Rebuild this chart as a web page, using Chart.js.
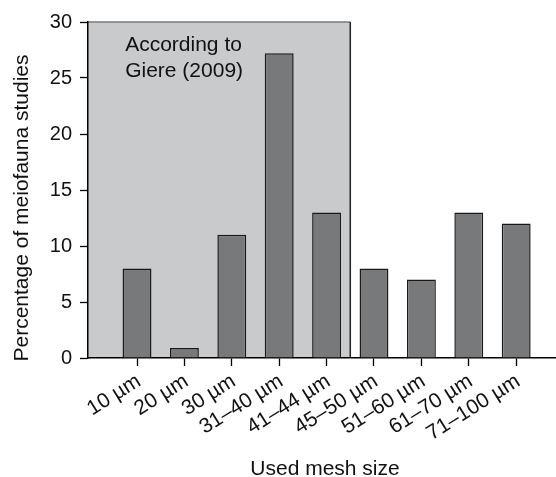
<!DOCTYPE html>
<html><head><meta charset="utf-8">
<script src="https://cdn.jsdelivr.net/npm/chart.js@4/dist/chart.umd.min.js"></script>
<style>html,body{margin:0;padding:0;background:#fff}#wrap{width:556px;height:477px}</style>
</head><body><div id="wrap"><canvas id="c" width="556" height="477"></canvas></div>
<script>
// ---- data ----
const categories = ['10 µm', '20 µm', '30 µm', '31–40 µm', '41–44 µm', '45–50 µm', '51–60 µm', '61–70 µm', '71–100 µm'];
const percentages = [8, 0.9, 11, 27.2, 13, 8, 7, 13, 12];
const yTickValues = [0, 5, 10, 15, 20, 25, 30];
const xTitle = 'Used mesh size';
const yTitle = 'Percentage of meiofauna studies';
const noteLines = ['According to', 'Giere (2009)'];
const shadedUntil = 5.5;   // shaded span covers the first five mesh classes

const FONT = '"Liberation Sans", Arial, Helvetica, sans-serif';

const decor = {
  id: 'decor',
  beforeDraw(chart) {
    const {ctx, chartArea, scales: {x, y}} = chart;
    const left = chartArea.left;
    const right = x.getPixelForValue(shadedUntil);
    const top = y.getPixelForValue(30);
    const bottom = y.getPixelForValue(0);
    ctx.save();
    ctx.fillStyle = '#c9cacc';
    ctx.fillRect(left, top, right - left, bottom - top);
    ctx.strokeStyle = '#7a7a7a';
    ctx.lineWidth = 1.3;
    ctx.beginPath();
    ctx.moveTo(left, top); ctx.lineTo(right, top);
    ctx.stroke();
    ctx.strokeStyle = '#222';
    ctx.lineWidth = 1.5;
    ctx.beginPath();
    ctx.moveTo(right, top); ctx.lineTo(right, bottom);
    ctx.stroke();
    ctx.fillStyle = '#111';
    ctx.font = '21px ' + FONT;
    ctx.textAlign = 'left';
    ctx.textBaseline = 'alphabetic';
    const tx = x.getPixelForValue(0.75);
    ctx.fillText(noteLines[0], tx, y.getPixelForValue(27.45));
    ctx.fillText(noteLines[1], tx, y.getPixelForValue(25.05));
    ctx.restore();
  },
  afterDraw(chart) {
    const {ctx, chartArea} = chart;
    ctx.save();
    ctx.fillStyle = '#111';
    ctx.font = '21px ' + FONT;
    ctx.textAlign = 'center';
    ctx.textBaseline = 'alphabetic';
    ctx.fillText(xTitle, (chartArea.left + chartArea.right) / 2 + 3, 475);
    ctx.translate(28, 208);
    ctx.rotate(-Math.PI / 2);
    ctx.fillText(yTitle, 0, 0);
    ctx.restore();
  }
};

new Chart(document.getElementById('c'), {
  type: 'bar',
  data: {
    datasets: [{
      data: percentages.map((v, i) => ({x: i + 1, y: v})),
      backgroundColor: '#78797b',
      borderColor: '#1a1a1a',
      borderWidth: 1.5,
      barPercentage: 0.61,
      categoryPercentage: 1
    }]
  },
  options: {
    responsive: false,
    animation: false,
    devicePixelRatio: 1,
    layout: {padding: {top: 22, right: 0, left: 0, bottom: 0}},
    plugins: {legend: {display: false}, tooltip: {enabled: false}},
    scales: {
      x: {
        type: 'linear',
        min: -0.034,
        max: 9.84,
        offset: false,
        afterBuildTicks: s => { s.ticks = categories.map((c, i) => ({value: i + 1})); },
        afterFit: s => { s.height = 119; },
        grid: {display: true, offset: false, drawOnChartArea: false, drawTicks: true, tickLength: 8, tickColor: '#000', tickWidth: 1.3},
        border: {display: true, color: '#000', width: 1.5},
        ticks: {autoSkip: false, minRotation: 32, maxRotation: 32, padding: 3, labelOffset: 2, color: '#111',
                font: {family: FONT, size: 21},
                callback: (v, i) => categories[i]}
      },
      y: {
        min: 0,
        max: 30,
        afterBuildTicks: s => { s.ticks = yTickValues.map(v => ({value: v})); },
        afterFit: s => { s.width = 88; },
        grid: {drawOnChartArea: false, tickLength: 8, tickColor: '#000', tickWidth: 1.3},
        border: {display: true, color: '#000', width: 1.5},
        ticks: {padding: 8, color: '#111', font: {family: FONT, size: 20}}
      }
    }
  },
  plugins: [decor]
});
</script></body></html>
